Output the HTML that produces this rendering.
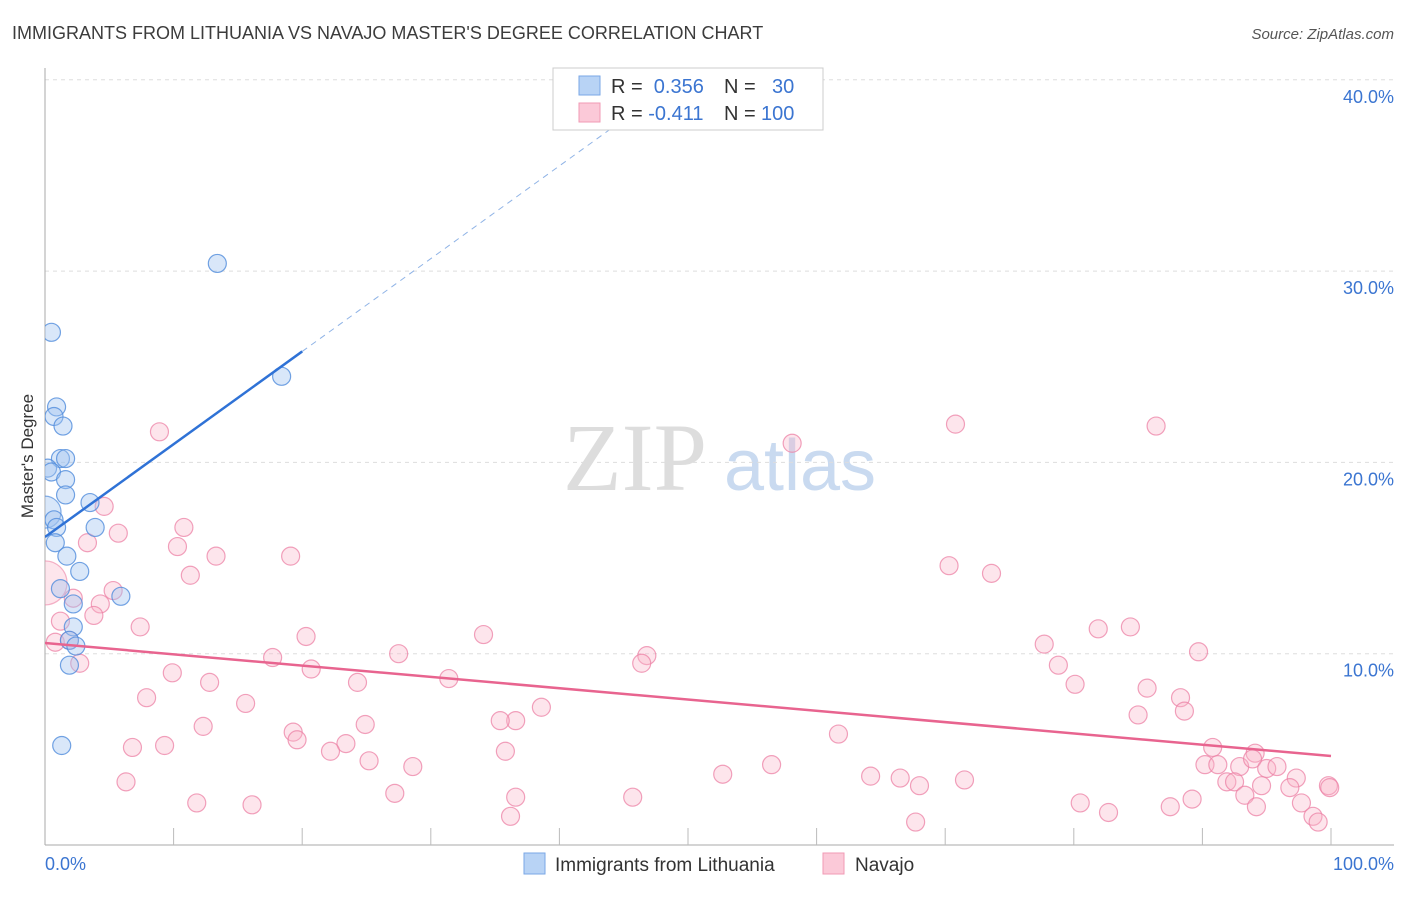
<!DOCTYPE html>
<html><head><meta charset="utf-8"><style>
body{margin:0;background:#fff;font-family:"Liberation Sans",sans-serif}
</style></head><body>
<svg id="chart" width="1406" height="892" xmlns="http://www.w3.org/2000/svg" font-family="Liberation Sans, sans-serif">
<defs><clipPath id="plotclip"><rect x="45" y="60" width="1360" height="785"/></clipPath></defs>
<text x="12" y="39" font-size="18" fill="#3c3c3c">IMMIGRANTS FROM LITHUANIA VS NAVAJO MASTER'S DEGREE CORRELATION CHART</text>
<text x="1394" y="39" font-size="15" fill="#555" font-style="italic" text-anchor="end">Source: ZipAtlas.com</text>
<text transform="translate(33,456) rotate(-90)" font-size="17" fill="#333" text-anchor="middle">Master's Degree</text>
<g>
<text x="635" y="490" font-size="96" fill="#ddd" text-anchor="middle" font-family="Liberation Serif, serif">ZIP</text>
<text x="800" y="490" font-size="72" fill="#c9daf0" text-anchor="middle">atlas</text>
</g>
<g id="grid"></g><g id="axes"></g><g id="marks" clip-path="url(#plotclip)"></g>
<g>
<rect x="553" y="68" width="270" height="62" fill="#fff" stroke="#ccc"/>
<rect x="579" y="76" width="21" height="19" fill="#b8d3f5" stroke="#7aa7e6"/>
<rect x="579" y="103" width="21" height="19" fill="#fbc9d8" stroke="#f09ab4"/>
<text x="611" y="93" font-size="20" fill="#333">R = <tspan fill="#3b75d1">&#160;0.356</tspan><tspan x="724">N = </tspan><tspan x="772" fill="#3b75d1">30</tspan></text>
<text x="611" y="120" font-size="20" fill="#333">R = <tspan fill="#3b75d1">-0.411</tspan><tspan x="724">N = </tspan><tspan x="761" fill="#3b75d1">100</tspan></text>
</g>
<g>
<rect x="524" y="853" width="21" height="21" fill="#b8d3f5" stroke="#7aa7e6"/>
<text x="555" y="871" font-size="19" fill="#333">Immigrants from Lithuania</text>
<rect x="823" y="853" width="21" height="21" fill="#fbc9d8" stroke="#f09ab4"/>
<text x="855" y="871" font-size="19" fill="#333">Navajo</text>
</g>
</svg>
<script>
const yTicks=[10,20,30,40];
const yTickLabels=["10.0%","20.0%","30.0%","40.0%"];
const xEndLabels=["0.0%","100.0%"];
const blueX=[13.4,0.5,18.4,0.9,0.7,1.4,1.2,1.6,0.2,0.5,1.6,1.6,3.5,0.7,0.9,3.9,0.8,1.7,2.7,1.2,5.9,2.2,2.2,1.9,2.4,1.9,1.3];
const blueY=[30.4,26.8,24.5,22.9,22.4,21.9,20.2,20.2,19.7,19.5,19.1,18.3,17.9,17.0,16.6,16.6,15.8,15.1,14.3,13.4,13.0,12.6,11.4,10.7,10.4,9.4,5.2];
const pinkX=[8.9,4.6,5.7,10.8,3.3,10.3,11.3,13.3,19.1,5.3,4.3,2.2,3.8,7.4,1.2,0.8,1.9,2.7,20.3,17.7,20.7,9.9,12.8,24.3,31.4,27.5,34.1,46.8,46.4,38.6,7.9,15.6,12.3,19.3,19.6,24.9,23.4,22.2,25.2,28.6,9.3,6.8,6.3,11.8,16.1,27.2,36.6,35.4,35.8,36.6,36.2,45.7,52.7,56.5,61.7,58.1,70.8,86.4,70.3,73.6,77.7,78.8,80.1,81.9,84.4,85.7,85.0,88.3,88.6,89.7,90.8,90.2,91.2,92.9,91.9,92.5,94.1,93.9,95.0,95.8,93.3,94.6,97.3,96.8,97.7,99.8,99.9,98.6,99.0,94.2,89.2,87.5,82.7,80.5,71.5,68.0,66.5,64.2,67.7];
const pinkY=[21.6,17.7,16.3,16.6,15.8,15.6,14.1,15.1,15.1,13.3,12.6,12.9,12.0,11.4,11.7,10.6,10.7,9.5,10.9,9.8,9.2,9.0,8.5,8.5,8.7,10.0,11.0,9.9,9.5,7.2,7.7,7.4,6.2,5.9,5.5,6.3,5.3,4.9,4.4,4.1,5.2,5.1,3.3,2.2,2.1,2.7,6.5,6.5,4.9,2.5,1.5,2.5,3.7,4.2,5.8,21.0,22.0,21.9,14.6,14.2,10.5,9.4,8.4,11.3,11.4,8.2,6.8,7.7,7.0,10.1,5.1,4.2,4.2,4.1,3.3,3.3,4.8,4.5,4.0,4.1,2.6,3.1,3.5,3.0,2.2,3.1,3.0,1.5,1.2,2.0,2.4,2.0,1.7,2.2,3.4,3.1,3.5,3.6,1.2];
const bigBlue=[0,17.4], bigPink=[0,13.7];
const blueTrend=[0,16.1,20,25.8], blueDashEnd=48;
const pinkTrend=[0,10.56,100,4.65];
const X=v=>45+v*12.86, Y=v=>845-v*19.13;
const NS="http://www.w3.org/2000/svg";
function mk(p,t,a){const e=document.createElementNS(NS,t);for(const k in a)e.setAttribute(k,a[k]);p.appendChild(e);return e;}
const grid=document.getElementById('grid'),axes=document.getElementById('axes'),marks=document.getElementById('marks');
yTicks.forEach((t,i)=>{
 const l=mk(grid,'line',{x1:45,x2:1394,y1:Y(t),y2:Y(t),stroke:'#ddd','stroke-dasharray':'4,4'});
 
 
 const tx=mk(axes,'text',{x:1394,y:Y(t)+23,'font-size':18,fill:'#3b75d1','text-anchor':'end'});tx.textContent=yTickLabels[i];
 
 
});
const ya=mk(axes,'line',{x1:45,x2:45,y1:68,y2:845,stroke:'#aaa'});


const xa=mk(axes,'line',{x1:45,x2:1394,y1:845,y2:845,stroke:'#aaa'});


for(let i=1;i<=10;i++){const t=mk(axes,'line',{x1:X(i*10),x2:X(i*10),y1:828,y2:845,stroke:'#bbb'});
 
 }
[[0,'start',45],[100,'end',1394]].forEach((d,i)=>{const t=mk(axes,'text',{x:d[2],y:870,'font-size':18,fill:'#3b75d1','text-anchor':d[1]});t.textContent=xEndLabels[i];
 
 });
function dot(x,y,r,f,s,n){const c=mk(marks,'circle',{cx:X(x),cy:Y(y),r:r,fill:f,stroke:s,'stroke-width':1.2});
 
 }
dot(bigPink[0],bigPink[1],22,'rgba(248,180,200,0.35)','rgba(236,130,165,0.6)','navajo-point-large');
pinkX.forEach((x,i)=>dot(x,pinkY[i],9,'rgba(248,180,200,0.35)','rgba(236,130,165,0.75)','navajo-point'));
dot(bigBlue[0],bigBlue[1],16,'rgba(160,195,240,0.4)','rgba(80,140,220,0.7)','lithuania-point-large');
blueX.forEach((x,i)=>dot(x,blueY[i],9,'rgba(160,195,240,0.4)','rgba(80,140,220,0.8)','lithuania-point'));
const sl=(blueTrend[3]-blueTrend[1])/(blueTrend[2]-blueTrend[0]);
const bd=mk(marks,'line',{x1:X(blueTrend[2]),y1:Y(blueTrend[3]),x2:X(blueDashEnd),y2:Y(blueTrend[1]+sl*blueDashEnd),stroke:'#8fb3e6','stroke-width':1,'stroke-dasharray':'6,5'});


const bl=mk(marks,'line',{x1:X(blueTrend[0]),y1:Y(blueTrend[1]),x2:X(blueTrend[2]),y2:Y(blueTrend[3]),stroke:'#2f72d6','stroke-width':2.5});


const pl=mk(marks,'line',{x1:X(pinkTrend[0]),y1:Y(pinkTrend[1]),x2:X(pinkTrend[2]),y2:Y(pinkTrend[3]),stroke:'#e8648f','stroke-width':2.5});


</script>
</body></html>
